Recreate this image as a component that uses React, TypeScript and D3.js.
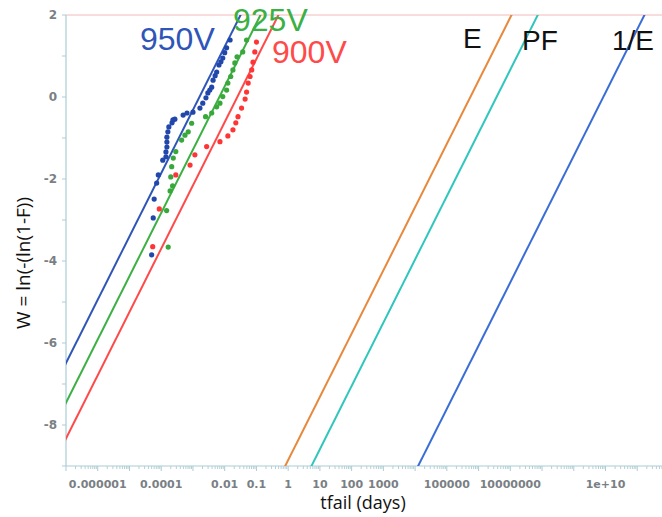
import React from "react";
import * as d3 from "d3";

// Failure times (days) and Weibull ordinate W for each stress voltage
const v950Days = [5.0e-5, 5.6e-5, 6.0e-5, 7.2e-5, 8.1e-5, 1.12e-4, 1.41e-4, 1.41e-4, 1.51e-4, 1.51e-4, 1.51e-4, 1.62e-4, 1.74e-4, 2.19e-4, 2.34e-4, 2.69e-4, 4.9e-4, 6.5e-4, 1.0e-3, 1.66e-3, 2.04e-3, 2.57e-3, 2.95e-3, 3.4e-3, 3.9e-3, 4.3e-3, 5.0e-3, 5.6e-3, 6.6e-3, 7.6e-3, 8.7e-3, 1.0e-2, 1.15e-2, 1.48e-2];
const v950W = [-3.85, -2.95, -2.49, -2.10, -1.90, -1.54, -1.46, -1.34, -1.22, -1.10, -0.98, -0.85, -0.73, -0.63, -0.56, -0.54, -0.44, -0.39, -0.37, -0.27, -0.15, -0.02, 0.10, 0.17, 0.24, 0.41, 0.52, 0.61, 0.78, 0.86, 0.95, 1.08, 1.20, 1.39];

const v925Days = [1.66e-4, 1.48e-4, 1.91e-4, 2.29e-4, 2.0e-4, 2.14e-4, 2.4e-4, 2.88e-4, 4.4e-4, 5.6e-4, 7.1e-4, 9.1e-4, 2.5e-3, 3.9e-3, 5.6e-3, 7.1e-3, 8.7e-3, 1.15e-2, 1.26e-2, 1.55e-2, 1.82e-2, 2.09e-2, 2.45e-2, 3.7e-2, 4.9e-2];
const v925W = [-3.66, -2.77, -2.29, -2.17, -1.95, -1.70, -1.49, -1.33, -1.05, -0.93, -0.85, -0.64, -0.48, -0.39, -0.24, -0.15, 0.01, 0.17, 0.34, 0.50, 0.66, 0.83, 0.98, 1.10, 1.39];

const v900Days = [5.4e-5, 8.7e-5, 2.88e-4, 8.1e-4, 1.15e-3, 2.7e-3, 7.1e-3, 1.26e-2, 1.82e-2, 2.24e-2, 2.63e-2, 3.4e-2, 4.4e-2, 4.9e-2, 5.5e-2, 6.3e-2, 7.1e-2, 7.8e-2, 8.9e-2, 0.1];
const v900W = [-3.65, -2.73, -1.90, -1.66, -1.41, -1.21, -1.09, -0.95, -0.80, -0.63, -0.48, -0.27, -0.05, 0.12, 0.34, 0.50, 0.66, 0.85, 1.10, 1.34];

// Weibull fits: shape beta, scale eta (days)
const fitNames = ["950V", "925V", "900V", "E", "PF", "1/E"];
const fitBeta = [0.67, 0.67, 0.67, 0.67, 0.67, 0.67];
const fitEta = [1.6e-3, 6.8e-3, 2.5e-2, 5.5e5, 3.7e6, 8.5e9];
const fitColors = ["#2f55b8", "#3bb043", "#ff4a4a", "#e8883c", "#2fc6bd", "#3a6ed6"];

const pointColors = ["#2247ab", "#38a83a", "#ff3535"];

// Axis ticks
const xTickValues = [1e-6, 1e-4, 1e-2, 1e-1, 1, 10, 100, 1000, 1e5, 1e7, 1e10];
const xTickLabels = ["0.000001", "0.0001", "0.01", "0.1", "1", "10", "100", "1000", "100000", "10000000", "1e+10"];
const yTickValues = [2, 0, -2, -4, -6, -8];

const W = 662;
const H = 517;
const left = 66;
const top = 15;
const bottom = 466;

export default function App() {
  const x = d3.scaleLog().domain([1e-7, 1e12]).range([left, 669]);
  const y = d3.scaleLinear().domain([2, -9]).range([top, bottom]);

  const series = [
    { t: v950Days, w: v950W },
    { t: v925Days, w: v925W },
    { t: v900Days, w: v900W },
  ];

  const line = d3
    .line<[number, number]>()
    .x((d) => x(d[0]))
    .y((d) => y(d[1]));

  const fitPath = (i: number) => {
    const b = fitBeta[i];
    const eta = fitEta[i];
    const tAt = (w: number) => eta * Math.exp(w / b);
    const pts: [number, number][] = [-10, 3].map((w) => [tAt(w), w]);
    return line(pts) || "";
  };

  const decades = d3.range(-7, 12);
  const minorTicks: number[] = [];
  decades.forEach((e) => {
    for (let m = 2; m <= 9; m++) minorTicks.push(m * Math.pow(10, e));
  });
  const majorTicks = decades.map((e) => Math.pow(10, e));
  const yMinor = d3.range(-9, 3);

  const labelFont = "'Liberation Sans', Arial, sans-serif";
  const tickFont = "'DejaVu Sans', Verdana, sans-serif";
  const titleFont = "'Open Sans', 'Noto Sans', sans-serif";

  return (
    <svg
      width={W}
      height={H}
      style={{ position: "absolute", left: 0, top: 0, background: "#fff" }}
    >
      <defs>
        <clipPath id="plotArea">
          <rect x={left} y={top} width={W - left} height={bottom - top} />
        </clipPath>
      </defs>

      {/* frame */}
      <line x1={left} x2={W} y1={top} y2={top} stroke="#f2b9b9" strokeWidth={1} />
      <line x1={left} x2={left} y1={top} y2={bottom} stroke="#a9cdd6" strokeWidth={1.2} />
      <line x1={left} x2={W} y1={bottom} y2={bottom} stroke="#a9cdd6" strokeWidth={1.2} />

      {/* y ticks */}
      {yMinor.map((v) => (
        <line key={"ym" + v} x1={left - 4} x2={left} y1={y(v)} y2={y(v)} stroke="#a9cdd6" />
      ))}
      {yTickValues.map((v) => (
        <text
          key={"yl" + v}
          x={57}
          y={y(v)}
          dy="0.35em"
          textAnchor="end"
          fontFamily={tickFont}
          fontSize={12}
          fontWeight="bold"
          fill="#7a7f85"
        >
          {v}
        </text>
      ))}

      {/* x ticks */}
      {minorTicks.map((v, i) => (
        <line key={"xm" + i} x1={x(v)} x2={x(v)} y1={bottom} y2={bottom + 3} stroke="#b5cfd6" />
      ))}
      {majorTicks.map((v, i) => (
        <line key={"xM" + i} x1={x(v)} x2={x(v)} y1={bottom} y2={bottom + 5} stroke="#a9cdd6" />
      ))}
      {xTickValues.map((v, i) => (
        <text
          key={"xl" + i}
          x={x(v)}
          y={488}
          textAnchor="middle"
          fontFamily={tickFont}
          fontSize={11}
          fontWeight="bold"
          fill="#7a7f85"
        >
          {xTickLabels[i]}
        </text>
      ))}

      {/* axis titles */}
      <text
        x={363}
        y={509}
        textAnchor="middle"
        fontFamily={titleFont}
        fontSize={18}
        fill="#111"
      >
        tfail (days)
      </text>
      <text
        transform={`translate(30,${263}) rotate(-90)`}
        textAnchor="middle"
        fontFamily={titleFont}
        fontSize={19}
        fill="#111"
      >
        W = ln(-(ln(1-F))
      </text>

      {/* fitted lines */}
      <g clipPath="url(#plotArea)">
        {fitNames.map((n, i) => (
          <path key={n} d={fitPath(i)} stroke={fitColors[i]} strokeWidth={2} fill="none" />
        ))}
        {series.map((s, si) =>
          s.t.map((t, k) => (
            <circle key={si + "-" + k} cx={x(t)} cy={y(s.w[k])} r={2.6} fill={pointColors[si]} />
          ))
        )}
      </g>

      {/* series labels */}
      <text x={140} y={50} fontFamily={labelFont} fontSize={32} fill="#2f55b8">950V</text>
      <text x={233} y={31} fontFamily={labelFont} fontSize={32} fill="#3bb043">925V</text>
      <text x={272} y={63} fontFamily={labelFont} fontSize={32} fill="#ff4a4a">900V</text>
      <text x={463} y={48} fontFamily={labelFont} fontSize={28} fill="#111">E</text>
      <text x={522} y={50} fontFamily={labelFont} fontSize={28} fill="#111">PF</text>
      <text x={612} y={50} fontFamily={labelFont} fontSize={28} fill="#111">1/E</text>
    </svg>
  );
}
